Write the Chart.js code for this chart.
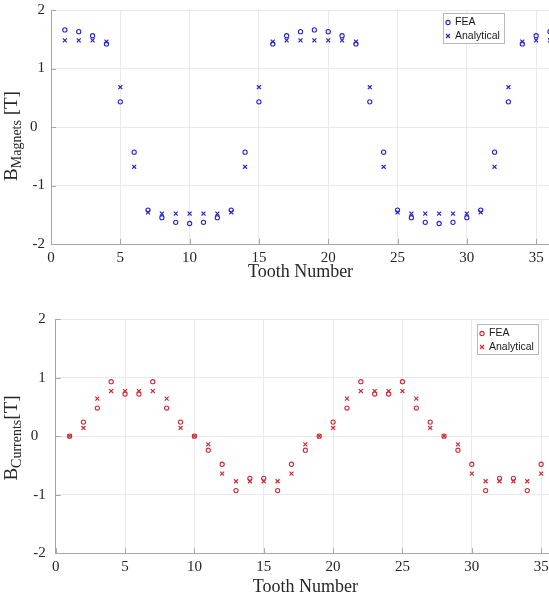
<!DOCTYPE html>
<html>
<head>
<meta charset="utf-8">
<script src="https://cdn.jsdelivr.net/npm/chart.js@4.4.1/dist/chart.umd.min.js"></script>
<style>
  html, body { margin: 0; padding: 0; background: #fff; overflow: hidden; width: 549px; height: 601px; }
  canvas { position: absolute; left: 0; }
  #magnets { top: 0; }
  #currents { top: 300px; }
</style>
</head>
<body>
<canvas id="magnets" width="560" height="300"></canvas>
<canvas id="currents" width="560" height="301"></canvas>
<script>
// Tooth numbers
const magnetTeeth = [1,2,3,4,5,6,7,8,9,10,11,12,13,14,15,16,17,18,19,20,21,22,23,24,25,26,27,28,29,30,31,32,33,34,35,36];
const currentTeeth = [1,2,3,4,5,6,7,8,9,10,11,12,13,14,15,16,17,18,19,20,21,22,23,24,25,26,27,28,29,30,31,32,33,34,35];

// Flux density per tooth due to the magnets [T]
const magnetsFEA = [1.66,1.63,1.56,1.42,0.43,-0.43,-1.42,-1.55,-1.63,-1.65,-1.63,-1.55,-1.42,-0.43,0.43,1.42,1.56,1.63,
                    1.66,1.63,1.56,1.42,0.43,-0.43,-1.42,-1.55,-1.63,-1.65,-1.63,-1.55,-1.42,-0.43,0.43,1.42,1.56,1.63];
const magnetsAnalytical = [1.48,1.48,1.48,1.46,0.68,-0.68,-1.46,-1.48,-1.48,-1.48,-1.48,-1.48,-1.46,-0.68,0.68,1.46,1.48,1.48,
                           1.48,1.48,1.48,1.46,0.68,-0.68,-1.46,-1.48,-1.48,-1.48,-1.48,-1.48,-1.46,-0.68,0.68,1.46,1.48,1.48];

// Flux density per tooth due to the phase currents [T]
const currentsFEA = [0,0.24,0.48,0.93,0.72,0.72,0.93,0.48,0.24,0,-0.24,-0.48,-0.93,-0.72,-0.72,-0.93,-0.48,-0.24,
                     0,0.24,0.48,0.93,0.72,0.72,0.93,0.48,0.24,0,-0.24,-0.48,-0.93,-0.72,-0.72,-0.93,-0.48];
const currentsAnalytical = [0,0.14,0.64,0.77,0.77,0.77,0.77,0.64,0.14,0,-0.14,-0.64,-0.77,-0.77,-0.77,-0.77,-0.64,-0.14,
                            0,0.14,0.64,0.77,0.77,0.77,0.77,0.64,0.14,0,-0.14,-0.64,-0.77,-0.77,-0.77,-0.77,-0.64];

// Axis ticks
const xTickValues = [0,5,10,15,20,25,30,35];
const yTickValues = [-2,-1,0,1,2];

const SERIF = "'Liberation Serif', 'Times New Roman', serif";
const SANS = "'Liberation Sans', Arial, sans-serif";
const TEXT = '#262626';
const AXIS = '#a6a6a6';
const GRID = '#e9e9e9';

function drawCircle(ctx, x, y, color) {
  ctx.beginPath();
  ctx.arc(x, y, 2.1, 0, Math.PI * 2);
  ctx.strokeStyle = color; ctx.lineWidth = 1.1; ctx.stroke();
}
function drawCross(ctx, x, y, color) {
  const d = 2.0;
  ctx.beginPath();
  ctx.moveTo(x - d, y - d); ctx.lineTo(x + d, y + d);
  ctx.moveTo(x - d, y + d); ctx.lineTo(x + d, y - d);
  ctx.strokeStyle = color; ctx.lineWidth = 1.2; ctx.stroke();
}

// Axis titles, inward tick marks and the boxed legend
const decorations = {
  id: 'decorations',
  afterDraw(chart, args, o) {
    const ctx = chart.ctx;
    const a = chart.chartArea;
    const xs = chart.scales.x, ys = chart.scales.y;
    ctx.save();

    // inward tick marks
    ctx.strokeStyle = AXIS; ctx.lineWidth = 1;
    ctx.beginPath();
    xTickValues.forEach(v => {
      const px = Math.round(xs.getPixelForValue(v)) + 0.5;
      ctx.moveTo(px, a.bottom); ctx.lineTo(px, a.bottom - 5);
    });
    yTickValues.forEach(v => {
      const py = Math.round(ys.getPixelForValue(v)) + 0.5;
      ctx.moveTo(a.left, py); ctx.lineTo(a.left + 5, py);
    });
    ctx.stroke();

    // x title
    ctx.fillStyle = TEXT;
    ctx.font = '18px ' + SERIF;
    ctx.textAlign = 'center'; ctx.textBaseline = 'middle';
    ctx.fillText('Tooth Number', (a.left + a.right) / 2, o.xTitleY);

    // y title with subscript, rotated
    ctx.translate(o.yTitleX, o.yTitleY);
    ctx.rotate(-Math.PI / 2);
    ctx.textAlign = 'left'; ctx.textBaseline = 'alphabetic';
    const mainFont = '19px ' + SERIF, subFont = '14px ' + SERIF;
    ctx.font = mainFont; const wB = ctx.measureText('B').width; const wT = ctx.measureText(o.tail).width;
    ctx.font = subFont; const wS = ctx.measureText(o.sub).width;
    let x0 = -(wB + wS + wT) / 2;
    ctx.font = mainFont; ctx.fillText('B', x0, 0);
    ctx.font = subFont; ctx.fillText(o.sub, x0 + wB, 4);
    ctx.font = mainFont; ctx.fillText(o.tail, x0 + wB + wS, 0);
    ctx.setTransform(1, 0, 0, 1, 0, 0);

    // legend
    const L = o.legend;
    ctx.fillStyle = '#fff';
    ctx.fillRect(L.x, L.y, L.w, L.h);
    ctx.strokeStyle = '#b8b8b8'; ctx.lineWidth = 1;
    ctx.strokeRect(L.x + 0.5, L.y + 0.5, L.w, L.h);
    const color = chart.data.datasets[0].borderColor;
    drawCircle(ctx, L.x + 5, L.y + 9.5, color);
    drawCross(ctx, L.x + 5, L.y + 23, color);
    ctx.fillStyle = '#1a1a1a';
    ctx.font = '10.5px ' + SANS;
    ctx.textAlign = 'left'; ctx.textBaseline = 'middle';
    chart.data.datasets.forEach((ds, i) => ctx.fillText(ds.label, L.x + 12, L.y + 9.5 + i * 13.5));
    ctx.restore();
  }
};

function makeChart(id, teeth, fea, analytical, color, lay) {
  const tickFont = { family: SERIF, size: 15 };
  return new Chart(document.getElementById(id), {
    type: 'scatter',
    data: {
      datasets: [
        { label: 'FEA', data: teeth.map((t, i) => ({ x: t, y: fea[i] })),
          pointStyle: 'circle', pointRadius: 2.1, pointHoverRadius: 2.1, pointBorderWidth: 1.1,
          borderColor: color, backgroundColor: 'rgba(0,0,0,0)' },
        { label: 'Analytical', data: teeth.map((t, i) => ({ x: t, y: analytical[i] })),
          pointStyle: 'crossRot', pointRadius: 2.8, pointHoverRadius: 2.8, pointBorderWidth: 1.2,
          borderColor: color, backgroundColor: color }
      ]
    },
    options: {
      responsive: false, animation: false, devicePixelRatio: 1,
      layout: { padding: { top: lay.padTop, right: lay.padRight, left: 0, bottom: 0 } },
      plugins: {
        legend: { display: false }, tooltip: { enabled: false },
        decorations: lay.decor
      },
      scales: {
        x: {
          type: 'linear', min: 0, max: 36,
          afterBuildTicks: s => { s.ticks = xTickValues.map(v => ({ value: v })); },
          afterFit: s => { s.height = lay.xHeight; s.paddingLeft = 0; s.paddingRight = 0; },
          grid: { color: GRID, drawTicks: false },
          border: { color: AXIS, width: 1 },
          ticks: { padding: 5, color: TEXT, font: tickFont, maxRotation: 0, autoSkip: false }
        },
        y: {
          type: 'linear', min: -2, max: 2,
          afterBuildTicks: s => { s.ticks = yTickValues.map(v => ({ value: v })); },
          afterFit: s => { s.width = lay.yWidth; s.paddingTop = 0; s.paddingBottom = 0; },
          grid: { color: GRID, drawTicks: false },
          border: { color: AXIS, width: 1 },
          ticks: { padding: lay.yPad, color: TEXT, font: tickFont,
                   callback: v => (v === 0 ? '0\u2002' : String(v)) }
        }
      }
    },
    plugins: [decorations]
  });
}

makeChart('magnets', magnetTeeth, magnetsFEA, magnetsAnalytical, '#2424cf', {
  padTop: 10, padRight: 10, xHeight: 56, yWidth: 51, yPad: 6,
  decor: { xTitleY: 272, yTitleX: 17, yTitleY: 136, sub: 'Magnets', tail: ' [T]',
           legend: { x: 443, y: 13, w: 61, h: 30 } }
});

makeChart('currents', currentTeeth, currentsFEA, currentsAnalytical, '#d22a36', {
  padTop: 19, padRight: 5, xHeight: 47.7, yWidth: 55.7, yPad: 10,
  decor: { xTitleY: 287, yTitleX: 17, yTitleY: 138, sub: 'Currents', tail: '[T]',
           legend: { x: 477, y: 24, w: 61, h: 30 } }
});
</script>
</body>
</html>
